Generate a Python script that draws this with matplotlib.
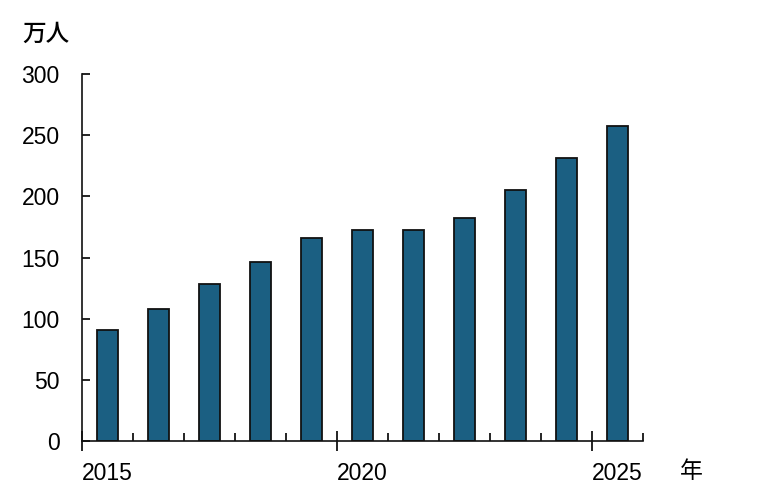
import matplotlib.pyplot as plt
import numpy as np

plt.rcParams['font.family'] = ['Liberation Sans', 'Noto Sans CJK JP']

years = [2015, 2016, 2017, 2018, 2019, 2020, 2021, 2022, 2023, 2024, 2025]
values = [90.5, 108, 128.5, 146, 166, 172.5, 172.5, 182.5, 205, 231, 257.5]
ylabels = [0, 50, 100, 150, 200, 250, 300]

fig = plt.figure(figsize=(7.58, 4.99), dpi=100)
ax = fig.add_axes([0.1082, 0.1162, 0.7401, 0.7355])

x = np.arange(len(years))
ax.bar(x, values, width=0.41, color="#1B5F82", edgecolor="#111111", linewidth=1.3)

ax.set_xlim(-0.5, len(years) - 0.5)
ax.set_ylim(0, 300)
ax.spines["top"].set_visible(False)
ax.spines["right"].set_visible(False)
for s in ["left", "bottom"]:
    ax.spines[s].set_linewidth(1.2)
    ax.spines[s].set_color("#111111")

ax.set_yticks(ylabels)
ax.set_yticklabels([str(v) for v in ylabels], fontsize=16.5)
ax.tick_params(axis="y", direction="in", length=6, width=1.2, pad=16)

# category boundaries: major ticks cross the axis, minor ticks point in
bounds = np.arange(len(years) + 1) - 0.5
major = [b for i, b in enumerate(bounds) if i in (0, 5, 10)]
minor = [b for i, b in enumerate(bounds) if i not in (0, 5, 10)]
ax.set_xticks(major)
ax.set_xticklabels([])
ax.set_xticks(minor, minor=True)
ax.tick_params(axis="x", which="major", direction="inout", length=14, width=1.2)
ax.tick_params(axis="x", which="minor", direction="in", length=6, width=1.2)

for i in (0, 5, 10):
    ax.text(x[i], -17, str(years[i]), ha="center", va="top", fontsize=16.5,
            transform=ax.transData, clip_on=False)

fig.text(22 / 758, 1 - 34 / 499, "万人", ha="left", va="center", fontsize=17,
         family=['Noto Sans CJK JP'], fontweight="medium")
fig.text(691 / 758, 1 - 471 / 499, "年", ha="center", va="center", fontsize=16.5,
         family=['Noto Sans CJK JP'])

fig.savefig("out.png", dpi=100)
